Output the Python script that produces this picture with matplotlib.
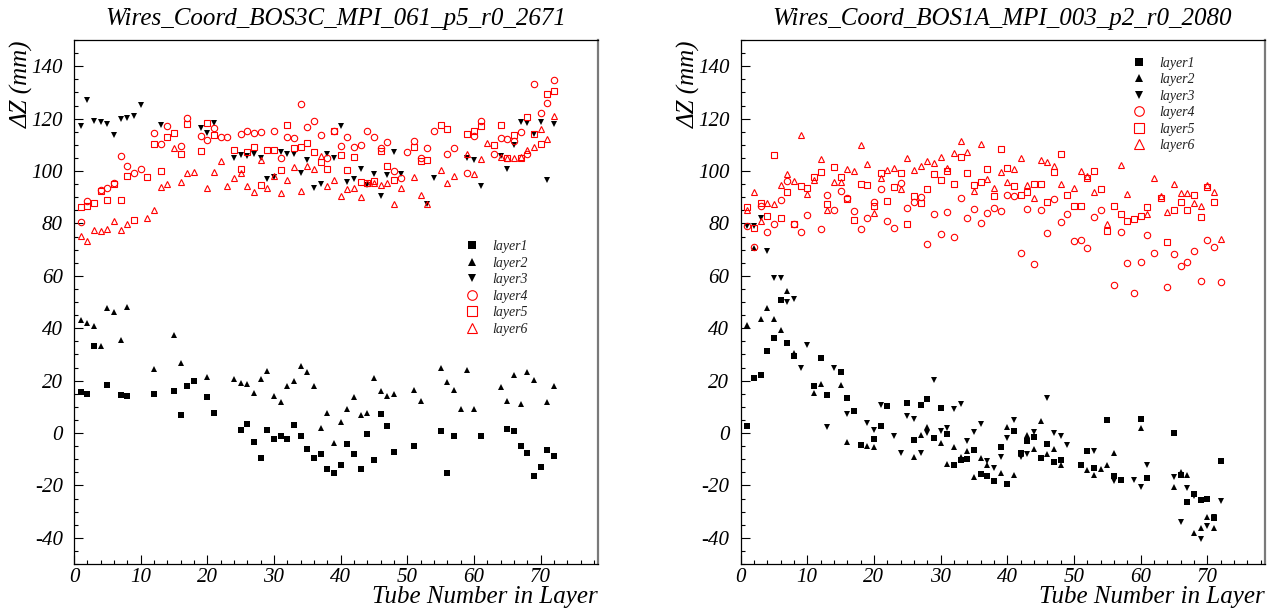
import matplotlib
matplotlib.use("Agg")
import matplotlib.pyplot as plt
from matplotlib.ticker import MultipleLocator

# ---------------- data: left panel (BOS3C) ----------------
L_title = "Wires_Coord_BOS3C_MPI_061_p5_r0_2671"
L1_x = [1, 2, 3, 5, 7, 8, 12, 15, 16, 17, 18, 20, 21, 25, 26, 27, 28, 29, 30, 31, 32, 33, 34, 35, 36, 37, 38,
        39, 40, 41, 42, 43, 44, 45, 46, 47, 48, 51, 55, 56, 57, 61, 65, 66, 67, 68, 69, 70, 71, 72]
L1_y = [15.7, 15, 33.1, 18.4, 14.5, 14.2, 15, 16, 6.7, 18, 19.8, 13.9, 7.6, 1.2, 3.3, -3.4, -9.7, 1.2, -2.4, -1,
        -2.4, 3, -1.2, -6, -9.4, -8.2, -13.8, -15.1, -12.4, -4.2, -8.2, -13.9, -0.4, -10.2, 7.3, 2.7, -7.2, -4.9,
        0.7, -15.3, -1.3, -1.3, 1.6, 0.7, -5.1, -7.6, -16.3, -12.9, -6.3, -8.7]
L2_x = [1, 2, 3, 4, 5, 6, 7, 8, 12, 15, 16, 20, 24, 25, 26, 27, 28, 29, 30, 31, 32, 33, 34, 35, 36, 37, 38, 39,
        40, 41, 42, 43, 44, 45, 46, 47, 48, 51, 52, 55, 56, 57, 58, 59, 60, 64, 65, 66, 67, 68, 69, 71, 72]
L2_y = [43, 41.9, 40.7, 33.2, 47.6, 46.1, 35.5, 48.1, 24.6, 37.3, 26.9, 21.3, 20.7, 19.2, 18.7, 15.3, 20.5, 23.5,
        14.2, 11.7, 17.8, 19.9, 25.6, 23.2, 18.1, 1.8, 7.5, -3.7, 4.3, 9, 13.9, 6.9, 7.5, 21, 15.9, 14.2, 14.7,
        16.6, 12.1, 24.9, 19.3, 16.5, 9, 24.1, 9, 17.4, 12.1, 22.3, 11.2, 23.2, 20.2, 12, 18.1]
L3_x = [1, 2, 3, 4, 5, 6, 7, 8, 9, 10, 13, 19, 20, 21, 24, 25, 26, 27, 28, 29, 30, 31, 32, 33, 34, 35, 36, 37,
        38, 39, 40, 41, 42, 43, 44, 45, 46, 47, 48, 49, 53, 54, 59, 60, 61, 64, 65, 66, 67, 68, 69, 70, 71, 72]
L3_y = [117.2, 127.1, 119, 118.6, 118, 113.7, 119.8, 120.1, 121, 125.3, 117.5, 116.6, 114.6, 118.4, 105.1, 106,
        105.6, 106.6, 104.8, 96.9, 97.6, 107.4, 106.6, 106.3, 99.1, 104.1, 93.4, 95.1, 106.6, 104.8, 117.2, 95.8,
        96.9, 100.6, 94.6, 98.7, 90.3, 98.4, 107.1, 98.7, 87.3, 97.2, 105.1, 104.1, 94.3, 105.6, 100.6, 109.9,
        118.6, 118.3, 114.1, 118.6, 96.4, 117.8]
L4_x = [1, 2, 4, 5, 6, 7, 8, 9, 10, 12, 13, 14, 16, 17, 19, 20, 21, 22, 23, 25, 26, 27, 28, 30, 31, 32, 33, 34,
        35, 36, 37, 38, 39, 40, 41, 42, 43, 44, 45, 46, 47, 48, 49, 50, 51, 52, 53, 54, 56, 57, 59, 60, 61, 63,
        64, 65, 66, 67, 68, 69, 70, 71, 72]
L4_y = [80.7, 88.4, 92.8, 93.6, 95.5, 105.6, 101.8, 99.4, 100.6, 114.6, 110.2, 117.1, 109.5, 120.1, 113.4, 111.7,
        116.3, 112.9, 112.9, 114.1, 115.3, 114.4, 114.9, 115.1, 105, 112.9, 112.6, 125.6, 116.8, 119, 113.7, 105,
        115.3, 109.5, 112.8, 109, 110, 115.3, 113.1, 108.6, 111, 100, 97.2, 107.1, 111.4, 105.1, 108.9, 115.3,
        106.6, 108.6, 99.1, 113.2, 119, 106.5, 112.6, 112.2, 111.4, 114.7, 106.3, 133.1, 122, 125.8, 134.6]
L5_x = [1, 2, 3, 4, 5, 6, 7, 8, 9, 11, 12, 13, 14, 15, 16, 17, 19, 20, 21, 24, 25, 26, 27, 28, 29, 30, 31, 32,
        33, 34, 35, 36, 37, 38, 39, 40, 41, 42, 43, 44, 45, 46, 47, 48, 51, 52, 53, 55, 56, 59, 60, 61, 63, 64,
        65, 66, 67, 68, 69, 70, 71, 72]
L5_y = [86.1, 86.6, 87.6, 92.5, 88.8, 95.2, 89.1, 98.2, 81.2, 97.8, 110.2, 100, 112.9, 114.6, 106.6, 118, 107.7,
        118.4, 113.7, 108, 100.9, 107.2, 109.3, 94.8, 108, 108, 100.5, 117.4, 108.9, 109, 110.7, 107.2, 103.5,
        100.8, 115.3, 106.2, 100.5, 105.4, 95.7, 95.4, 96.3, 107.5, 101.8, 96.4, 109.2, 103.9, 104.1, 117.5, 116,
        114, 115.3, 117.1, 110.1, 117.7, 105, 113.7, 104.8, 120.8, 114.2, 110.2, 129.5, 130.6]
L6_x = [1, 2, 3, 4, 5, 6, 7, 8, 11, 12, 13, 14, 15, 16, 17, 18, 20, 21, 22, 23, 24, 25, 26, 27, 28, 29, 30, 31,
        32, 33, 34, 35, 36, 37, 38, 39, 40, 41, 42, 43, 44, 45, 46, 47, 48, 49, 51, 52, 53, 55, 56, 57, 59, 60,
        61, 62, 64, 65, 66, 67, 68, 69, 70, 71, 72]
L6_y = [75.3, 73.4, 77.4, 77, 78, 80.9, 77.3, 79.7, 81.9, 85.2, 94, 95.1, 108.6, 95.8, 99.4, 99.6, 93.7, 99.6,
        103.8, 94.2, 97.5, 99.4, 94.2, 91.9, 104.1, 93.7, 98.2, 91.5, 96.4, 101.4, 92.2, 102, 100.6, 105.9, 94.2,
        96.6, 90.6, 93.3, 93.4, 90, 95.5, 95.5, 94.5, 95.4, 87.3, 93.7, 97.9, 91, 87.3, 100.5, 95.4, 98.1, 106.6,
        98.8, 104.7, 110.7, 105.4, 105, 105.1, 105.4, 108, 109.3, 116.2, 112.3, 121.1]

# ---------------- data: right panel (BOS1A) ----------------
R_title = "Wires_Coord_BOS1A_MPI_003_p2_r0_2080"
R1_x = [1, 2, 3, 4, 5, 6, 7, 8, 11, 12, 13, 15, 16, 17, 18, 20, 21, 22, 25, 26, 27, 28, 29, 30, 31, 32, 33, 34,
        35, 36, 37, 38, 39, 40, 41, 42, 43, 44, 45, 46, 47, 48, 51, 52, 53, 55, 56, 57, 60, 61, 65, 66, 67, 68,
        69, 70, 71, 72]
R1_y = [2.8, 21.1, 22.3, 31.3, 36.2, 50.7, 34.3, 29.2, 18.1, 28.7, 14.4, 23.2, 13.5, 8.4, -4.6, -2.4, 2.8, 10.2,
        11.4, -2.8, 10.5, 13, -1.9, 9.4, -0.4, -12.3, -10.2, -10, -6.3, -15.6, -16.6, -18.3, -5.4, -19.5, 0.6,
        -7.5, -3, -1.6, -9.4, -4.2, -11.2, -10.3, -12.3, -6.7, -13.3, 5.1, -16.6, -17.8, 5.4, -17.2, -0.1, -16.2,
        -26.5, -23.2, -25.6, -25.1, -32.6, -10.5]
R2_x = [1, 2, 3, 4, 5, 6, 7, 8, 11, 12, 15, 16, 19, 20, 26, 27, 28, 30, 31, 32, 33, 34, 35, 36, 37, 39, 40, 41,
        42, 43, 44, 45, 46, 47, 48, 52, 53, 54, 55, 56, 60, 65, 66, 67, 68, 69, 70, 71]
R2_y = [41.2, 70.7, 43.4, 47.8, 43.4, 39.2, 54.3, 30.5, 15.4, 18.6, 18.3, -3.4, -4.8, -5.2, -9.3, -0.7, 2.2, -3.7,
        -12, -5.5, -9, -6.7, -16.9, -9.7, -12.3, -15.3, 2.2, -16.2, -8.2, -0.7, -6, 4.5, -8.2, -6, -12.4, -14.2,
        -16.2, -13.8, -12.4, -7.5, 1.9, -20.5, -15, -16.2, -38.2, -36.2, -31.9, -36.4]
R3_x = [1, 2, 3, 4, 5, 6, 7, 8, 9, 10, 13, 14, 16, 19, 20, 21, 23, 24, 25, 26, 27, 28, 29, 30, 31, 32, 33, 34,
        35, 36, 37, 38, 39, 40, 41, 42, 43, 44, 46, 47, 48, 49, 53, 56, 59, 60, 61, 65, 66, 67, 68, 69, 70, 71, 72]
R3_y = [79, 79, 82, 69.6, 59, 59, 49.9, 51, 24.7, 33.4, 2.4, 24.7, 7.3, 3.7, 1.3, 10.5, -1, -7.5, 6.4, 5.4, -7.5,
        0.1, 20.2, 0.7, 1.8, 9.3, 10.9, -3, 0.3, 3.3, -10.5, -13.5, -9, -1.9, 4.8, -9, -8.2, 0.4, 13.5, 0.1, -1,
        -4.6, -6.7, -18.3, -17.8, -20.5, -12.3, -16.9, -34.1, -21.1, -24, -40.4, -35.6, -31.9, -25.9]
R4_x = [1, 2, 3, 4, 5, 6, 7, 8, 9, 10, 12, 13, 14, 15, 16, 17, 18, 19, 20, 21, 22, 23, 24, 25, 26, 27, 28, 29,
        30, 31, 32, 33, 34, 35, 36, 37, 38, 39, 40, 41, 42, 43, 44, 45, 46, 47, 48, 49, 50, 51, 52, 53, 54, 56,
        57, 58, 59, 60, 61, 62, 64, 65, 66, 67, 68, 69, 70, 71, 72]
R4_y = [78.9, 71.1, 86.5, 76.8, 79.6, 88.8, 96, 79.8, 76.8, 83.1, 77.7, 90.9, 85, 92.2, 89.8, 84.6, 77.7, 81.9,
        88.3, 93, 81, 78.3, 95.5, 85.8, 88.3, 90.1, 72, 83.7, 76, 84.4, 74.9, 89.7, 81.9, 85.5, 80.2, 84.1, 85.8,
        84.9, 91, 90.3, 68.7, 85.6, 64.4, 85.3, 76.2, 89.4, 80.5, 83.5, 73.4, 73.7, 70.5, 82.5, 85.2, 56.6, 76.8,
        65, 53.4, 65.1, 75.7, 68.7, 55.8, 68.3, 63.8, 65.1, 69.6, 58.2, 73.8, 71, 57.8]
R5_x = [1, 2, 3, 4, 5, 6, 7, 8, 9, 10, 11, 12, 13, 14, 15, 16, 17, 18, 19, 20, 21, 22, 23, 24, 25, 26, 27, 28,
        29, 30, 31, 32, 33, 34, 35, 36, 37, 38, 39, 40, 41, 42, 43, 44, 45, 46, 47, 48, 49, 50, 51, 52, 53, 54,
        55, 56, 57, 58, 59, 60, 61, 63, 64, 65, 66, 67, 68, 69, 70, 71]
R5_y = [86.4, 78.4, 87.7, 82.8, 106.1, 81.9, 91.8, 79.8, 94.2, 93.6, 97.8, 99.6, 87.3, 101.6, 97.6, 89.5, 81.4,
        95.1, 94.5, 86.7, 99.4, 88.5, 93.9, 99.1, 79.8, 90.6, 87.7, 93, 98.7, 96.7, 100, 95.2, 105.5, 99.1, 94.5,
        95.7, 100.6, 90.3, 108.5, 101, 94.3, 91, 91.9, 95.1, 95.1, 88, 99.6, 106.3, 90.9, 86.8, 86.8, 97.2, 100,
        93, 77.2, 86.5, 83.4, 80.8, 81.6, 82.8, 86.1, 89.8, 72.8, 85.3, 88, 85, 90.9, 82.5, 93.9, 88]
R6_x = [1, 2, 3, 4, 5, 6, 7, 8, 9, 10, 11, 12, 13, 14, 15, 16, 17, 18, 19, 20, 21, 22, 23, 24, 25, 26, 27, 28,
        29, 30, 31, 32, 33, 34, 35, 36, 37, 38, 39, 40, 41, 42, 43, 44, 45, 46, 47, 48, 50, 51, 52, 53, 55, 57,
        58, 61, 62, 63, 64, 65, 66, 67, 68, 69, 70, 71, 72]
R6_y = [85.3, 91.8, 81.1, 87.9, 87.3, 94.5, 98.7, 96.1, 113.8, 91.3, 96.4, 104.6, 85, 95.8, 95.8, 100.6, 100.1,
        110, 102.7, 84.1, 97.5, 100.3, 101, 93.1, 104.9, 100.3, 101.9, 103.9, 103.1, 105.5, 101.3, 106.7, 111.5,
        107.3, 92.4, 110.2, 97, 93.6, 99.7, 95.8, 100.9, 104.9, 94.8, 89.8, 104.3, 103.6, 101.8, 94.9, 93.6, 100,
        98.1, 91.9, 79.8, 102.1, 91.2, 83.4, 97.3, 90.3, 84.4, 95.1, 91.5, 91.5, 87.7, 86.8, 94.8, 91.9, 74.1]

layer_names = ["layer1", "layer2", "layer3", "layer4", "layer5", "layer6"]
x_label = "Tube Number in Layer"
y_label = "\u0394Z (mm)"

# ---------------- style ----------------
SERIF = ["Liberation Serif", "DejaVu Serif"]
plt.rcParams["font.family"] = SERIF
plt.rcParams["font.style"] = "italic"
plt.rcParams["axes.unicode_minus"] = False

RED = "#ff0000"
styles = [
    dict(marker="s", ms=3.8, mfc="black", mec="black", mew=0),
    dict(marker="^", ms=4.2, mfc="black", mec="black", mew=0),
    dict(marker="v", ms=4.2, mfc="black", mec="black", mew=0),
    dict(marker="o", ms=4.6, mfc="none", mec=RED, mew=0.8),
    dict(marker="s", ms=4.6, mfc="none", mec=RED, mew=0.8),
    dict(marker="^", ms=5.0, mfc="none", mec=RED, mew=0.8),
]

fig = plt.figure(figsize=(12.76, 6.16), dpi=100)
ax_l = fig.add_axes([74 / 1276, 1 - 564 / 616, 524 / 1276, 524 / 616])
ax_r = fig.add_axes([740.5 / 1276, 1 - 564 / 616, 524 / 1276, 524 / 616])

panels = [
    (ax_l, L_title, [(L1_x, L1_y), (L2_x, L2_y), (L3_x, L3_y), (L4_x, L4_y), (L5_x, L5_y), (L6_x, L6_y)],
     (0.747, 0.527)),
    (ax_r, R_title, [(R1_x, R1_y), (R2_x, R2_y), (R3_x, R3_y), (R4_x, R4_y), (R5_x, R5_y), (R6_x, R6_y)],
     (0.748, 0.877)),
]

for ax, title, series, leg_pos in panels:
    handles = []
    for (xs, ys), st, name in zip(series, styles, layer_names):
        h, = ax.plot(xs, ys, linestyle="none", label=name, **st)
        handles.append(h)
    ax.set_xlim(0, 78.6)
    ax.set_ylim(-50, 150)
    ax.xaxis.set_major_locator(MultipleLocator(10))
    ax.xaxis.set_minor_locator(MultipleLocator(2))
    ax.yaxis.set_major_locator(MultipleLocator(20))
    ax.yaxis.set_minor_locator(MultipleLocator(5))
    ax.tick_params(which="both", direction="in", top=False, right=False, width=0.8, color="black")
    ax.tick_params(which="major", length=6.5)
    ax.tick_params(which="minor", length=3.2)
    ax.tick_params(axis="x", which="major", pad=3, labelsize=15)
    ax.tick_params(axis="y", which="major", pad=8, labelsize=15)
    for lab in ax.get_xticklabels() + ax.get_yticklabels():
        lab.set_fontstyle("italic")
    for side in ("left", "bottom", "top"):
        ax.spines[side].set_linewidth(0.9)
        ax.spines[side].set_color("black")
    ax.spines["right"].set_linewidth(1.6)
    ax.spines["right"].set_color("#7a7a7a")

    ax.set_title(title, fontsize=18, fontstyle="italic", pad=11)
    ax.set_xlabel(x_label, fontsize=18, fontstyle="italic", loc="right")
    ax.xaxis.set_label_coords(1.0, -0.042)
    ax.set_ylabel(y_label, fontsize=18, fontstyle="italic", loc="top")
    ax.yaxis.set_label_coords(-0.076, 1.0)

    leg = ax.legend(handles=handles, loc="center left", bbox_to_anchor=leg_pos, frameon=False,
                    fontsize=10, markerscale=1.5, handlelength=1.0, handletextpad=0.9,
                    labelspacing=0.25, borderpad=0, borderaxespad=0)
    for t in leg.get_texts():
        t.set_color("#222222")
        t.set_fontstyle("italic")

fig.savefig("out.png", dpi=100)
